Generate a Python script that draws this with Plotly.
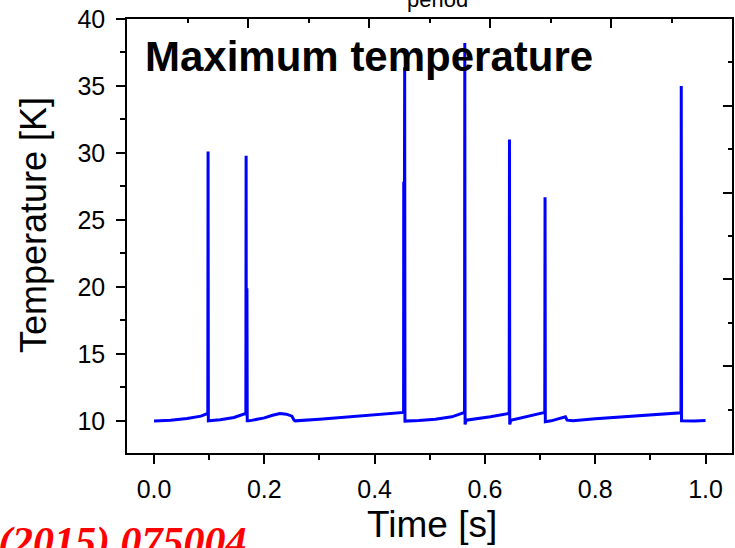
import plotly.graph_objects as go

# Time [s] and maximum temperature [K]
time_s = [0.000, 0.030, 0.060, 0.085, 0.0975,
          0.0980, 0.0985, 0.120, 0.145, 0.1665,
          0.1670, 0.1673, 0.1685, 0.1690, 0.172, 0.200, 0.215, 0.228, 0.240, 0.250, 0.254, 0.256,
          0.300, 0.350, 0.400, 0.430, 0.4525,
          0.4528, 0.4533, 0.4545, 0.4550,
          0.480, 0.510, 0.540, 0.5630,
          0.5635, 0.5640, 0.5660, 0.580, 0.610, 0.6440,
          0.6445, 0.6450, 0.6470, 0.670, 0.7085,
          0.7090, 0.7095, 0.720, 0.735, 0.742, 0.746, 0.749, 0.760,
          0.800, 0.850, 0.900, 0.9555,
          0.9560, 0.9565, 0.980, 1.000]
temp_K = [9.98, 10.05, 10.18, 10.35, 10.55,
          30.1, 10.0, 10.08, 10.25, 10.55,
          29.8, 10.4, 19.9, 10.0, 10.0, 10.22, 10.42, 10.55, 10.5, 10.35, 10.05, 10.0,
          10.12, 10.28, 10.45, 10.55, 10.63,
          27.85, 10.6, 36.4, 9.98,
          10.02, 10.12, 10.3, 10.63,
          38.2, 9.73, 10.05, 10.12, 10.3, 10.55,
          31.0, 9.73, 10.05, 10.25, 10.63,
          26.7, 9.93, 10.0, 10.2, 10.3, 10.3, 10.05, 10.0,
          10.15, 10.3, 10.42, 10.6,
          35.0, 10.0, 9.98, 10.02]

y_ticks = [10, 15, 20, 25, 30, 35, 40]
x_ticks = [0.0, 0.2, 0.4, 0.6, 0.8, 1.0]

FONT = "Liberation Sans, Arial, sans-serif"

fig = go.Figure()
fig.add_trace(go.Scatter(x=time_s, y=temp_K, mode="lines",
                         line=dict(color="#0000ff", width=3), showlegend=False,
                         hoverinfo="skip"))
# invisible trace to carry the mirrored frame axes (top / right)
fig.add_trace(go.Scatter(x=[None], y=[None], xaxis="x2", yaxis="y2",
                         mode="lines", showlegend=False, hoverinfo="skip"))

fig.update_layout(
    width=735, height=548,
    margin=dict(l=127, r=3, t=19, b=95),
    paper_bgcolor="white", plot_bgcolor="white",
    font=dict(family=FONT, color="black"),
    xaxis=dict(range=[-0.049, 1.048], tickvals=x_ticks,
               ticktext=[f"{v:.1f}" for v in x_ticks],
               ticks="outside", ticklen=9, tickwidth=1.5, tickcolor="black",
               minor=dict(dtick=0.1, tick0=0, ticks="outside", ticklen=5,
                          tickwidth=1.5, tickcolor="black"),
               showline=True, linecolor="black", linewidth=1.5,
               showgrid=False, zeroline=False, automargin=False,
               tickfont=dict(size=25, family=FONT), ticklabelstandoff=4),
    yaxis=dict(range=[7.6, 40], tickvals=y_ticks,
               ticks="outside", ticklen=9, tickwidth=1.5, tickcolor="black",
               minor=dict(dtick=2.5, tick0=0, ticks="outside", ticklen=5,
                          tickwidth=1.5, tickcolor="black"),
               showline=True, linecolor="black", linewidth=1.5,
               showgrid=False, zeroline=False, automargin=False,
               tickfont=dict(size=25, family=FONT), ticklabelstandoff=6),
    xaxis2=dict(overlaying="x", side="top", anchor="y2", range=[0, 10],
                dtick=2, tick0=0, ticks="inside", ticklen=9, tickwidth=1.5,
                tickcolor="black",
                minor=dict(dtick=1, tick0=0, ticks="inside", ticklen=4,
                           tickwidth=1.5, tickcolor="black"),
                showticklabels=False, showline=True, linecolor="black",
                linewidth=1.5, showgrid=False, zeroline=False, automargin=False),
    yaxis2=dict(overlaying="y", side="right", anchor="x2", range=[0, 10],
                dtick=2, tick0=0, ticks="inside", ticklen=9, tickwidth=1.5,
                tickcolor="black",
                minor=dict(dtick=1, tick0=0, ticks="inside", ticklen=4,
                           tickwidth=1.5, tickcolor="black"),
                showticklabels=False, showline=True, linecolor="black",
                linewidth=1.5, showgrid=False, zeroline=False, automargin=False),
)

annotations = [
    dict(text="<b>Maximum temperature</b>", xref="paper", yref="paper",
         x=(143 - 127) / 605, y=(453 - 57) / 434, xanchor="left", yanchor="middle",
         showarrow=False, font=dict(size=42, family=FONT, color="black")),
    dict(text="Temperature [K]", xref="paper", yref="paper",
         x=(33 - 127) / 605, y=(453 - 225) / 434, xanchor="center", yanchor="middle",
         textangle=-90, showarrow=False, font=dict(size=36, family=FONT, color="black")),
    dict(text="Time [s]", xref="paper", yref="paper",
         x=(432 - 127) / 605, y=(453 - 524) / 434, xanchor="center", yanchor="middle",
         showarrow=False, font=dict(size=37, family=FONT, color="black")),
    dict(text="period", xref="paper", yref="paper",
         x=(437 - 127) / 605, y=(453 - 0) / 434, xanchor="center", yanchor="middle",
         showarrow=False, font=dict(size=22, family=FONT, color="black")),
    dict(text="<b><i>(2015) 075004</i></b>", xref="paper", yref="paper",
         x=(-4 - 127) / 605, y=(453 - 542) / 434, xanchor="left", yanchor="middle",
         showarrow=False,
         font=dict(size=42, family="Liberation Serif, Times New Roman, serif", color="#ff0000")),
]
fig.update_layout(annotations=annotations)

fig.write_html("out.html", config={"displayModeBar": False},
               post_script="document.body.style.margin='0';document.body.style.overflow='hidden';")
